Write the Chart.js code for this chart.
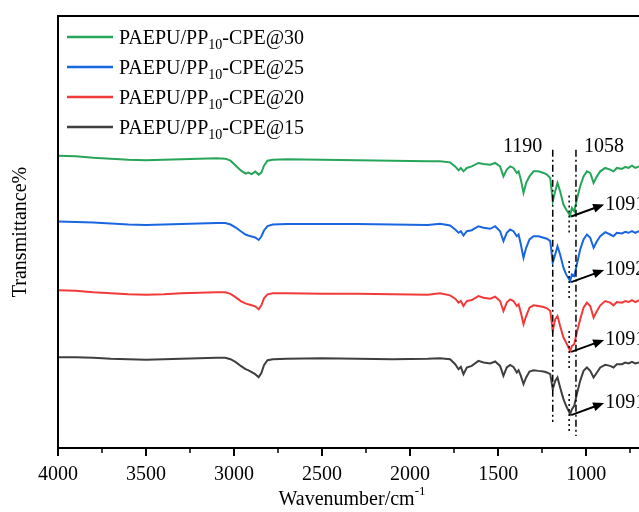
<!DOCTYPE html>
<html><head><meta charset="utf-8">
<script src="https://cdn.jsdelivr.net/npm/chart.js@4.4.0/dist/chart.umd.min.js"></script>
<style>html,body{margin:0;padding:0;background:#fff;}canvas{display:block;}</style>
</head><body>
<canvas id="c" width="639" height="512"></canvas>
<script>
// ---- data (wavenumber in cm-1, transmittance in arbitrary offset units) ----
const wavenumbers = [4000,3900,3800,3700,3600,3500,3400,3300,3200,3100,
  3050,3020,2990,2960,2935,2920,2900,2880,2860,2845,
  2830,2810,2780,2700,2500,2300,2100,1900,1830,1773,
  1744,1725,1712,1697,1678,1650,1612,1583,1545,1517,
  1489,1470,1451,1432,1413,1394,1384,1371,1356,1341,
  1322,1299,1271,1242,1223,1204,1190,1176,1163,1148,
  1129,1114,1091,1081,1068,1053,1034,1015,996,977,
  958,939,920,892,864,845,826,797,778,759,
  740,721,699];
const cpe30 = [293,292.5,291,290,289,288.5,289,289.5,290,290.5,
  290,288,283,278,275,276,274.5,277,274,276,
  283,288,289,289.5,289,288.5,288,287.5,287.3,286.3,
  282.3,278.3,280.7,277.3,280.7,282.3,285.7,284.7,284,285.7,
  282.3,272.3,279,282.3,280.7,275.7,277.3,269,255.7,265.7,
  272.3,277.3,277.3,275.7,274,270.7,247.3,257.3,265.7,257.3,
  244,239,233,240.7,237.3,249,262.3,272.3,277.3,275.7,
  265.7,272.3,277.3,280.7,279,277.3,280.7,279.7,281.7,280.7,
  283,280.7,282.3];
const cpe25 = [227,226.5,226,225,224,223.5,224,224.5,225,225.5,
  225.5,224,221,217,214,213,212,211,208.5,212,
  218,222.5,224,224.5,224.5,224.5,224,223.5,224.7,223,
  219,215.7,217.3,213,217.3,218.3,222.3,220.7,219.7,222.3,
  217.3,207.3,215.7,219,217.3,212.3,214,204,190.7,200.7,
  209,212.3,212.3,210.7,209.7,207.3,185.7,194,202.3,194,
  180.7,174,167.3,174,172.3,184,199,209,214,210.7,
  200.7,207.3,212.3,216.3,214,212.3,215.7,215,216.7,215.7,
  217.3,215.7,217.3];
const cpe20 = [158,157.5,156,155,154,153.5,154,155,155.5,156,
  156,154.5,151,147,145,144,143,142,139,143,
  150,154,155,155,154.5,154.5,154,153.5,155,153,
  149.7,145.7,147.3,142.3,147.3,148.3,152.3,150.7,149.7,151.7,
  147.3,137.3,145.7,149,147.3,142.3,144,135.7,124,132.3,
  140.7,143,142.3,141.3,140,137.3,117.3,129,132.3,122.3,
  110.7,105.7,97.3,102.3,104,115.7,129,140.7,145.7,142.3,
  130.7,137.3,143,147.3,145.7,143,146.3,145.7,147.3,146.3,
  148.3,146.3,148];
const cpe15 = [91,91,90.5,89.5,89,88.5,89,89.5,90,90.5,
  90.5,89,86,82,79,78,76,74,71,75,
  83,88,89,89.5,90,89.5,89,89.5,90,89,
  84,79,81.3,74,80.7,82.3,87.3,85.7,84.7,86.7,
  82.3,72.3,80.7,83.3,81.3,75.7,78,72.3,64,70.7,
  76.7,78,77.3,76.7,75.7,74,59,67.3,70.7,60.7,
  49,42.3,34,39,42.3,54,67.3,77.3,80.7,77.3,
  70.7,75.7,80.7,83.3,82.3,80.7,84,84,85.7,84.7,
  86.3,84.7,85.7];
const legendPrefix = 'PAEPU/PP';
const legendSub = '10';
const legendSuffixes = ['-CPE@30','-CPE@25','-CPE@20','-CPE@15'];
const seriesColors = ['#27a55a','#1a66e0','#f23a3a','#3f3f3f'];
const xTickValues = [4000,3500,3000,2500,2000,1500,1000];
const xMinorTickValues = [3750,3250,2750,2250,1750,1250,750];
const refLines = [1190, 1058];
const refLineBottoms = [26, 12];
const refLineTop = 299;
const peakWavenumber = 1091;
const peakLabels = ['1091','1092','1091','1091'];

const FONT = '"Liberation Serif","Times New Roman",serif';
const allSeries = [cpe30, cpe25, cpe20, cpe15];

const deco = {
  id: 'deco',
  afterDatasetsDraw(chart) {
    const {ctx, chartArea: a, scales: {x, y}} = chart;
    ctx.save();
    // frame
    ctx.strokeStyle = '#000';
    ctx.lineWidth = 2;
    ctx.beginPath();
    ctx.moveTo(a.right + 2, a.top); ctx.lineTo(a.left, a.top);
    ctx.lineTo(a.left, a.bottom); ctx.lineTo(a.right + 2, a.bottom);
    ctx.stroke();
    // ticks
    xTickValues.forEach(v => {
      const px = Math.round(x.getPixelForValue(v));
      ctx.lineWidth = 2;
      ctx.beginPath(); ctx.moveTo(px, a.bottom); ctx.lineTo(px, a.bottom + 8); ctx.stroke();
    });
    xMinorTickValues.forEach(v => {
      const px = Math.round(x.getPixelForValue(v));
      ctx.lineWidth = 1.5;
      ctx.beginPath(); ctx.moveTo(px, a.bottom); ctx.lineTo(px, a.bottom + 5); ctx.stroke();
    });
    // reference dash-dot lines
    ctx.lineWidth = 1.5;
    ctx.setLineDash([7, 3, 2, 3]);
    refLines.forEach((w, i) => {
      const px = x.getPixelForValue(w);
      ctx.beginPath();
      ctx.moveTo(px, y.getPixelForValue(refLineTop));
      ctx.lineTo(px, y.getPixelForValue(refLineBottoms[i]));
      ctx.stroke();
    });
    ctx.setLineDash([]);
    ctx.fillStyle = '#000';
    ctx.font = '20px ' + FONT;
    ctx.textAlign = 'center';
    ctx.textBaseline = 'alphabetic';
    const ly = y.getPixelForValue(refLineTop) + 2;
    ctx.fillText(String(refLines[0]), x.getPixelForValue(refLines[0]) - 30, ly);
    ctx.fillText(String(refLines[1]), x.getPixelForValue(refLines[1]) + 28, ly);
    // peak markers and arrows
    const pi = wavenumbers.indexOf(peakWavenumber);
    const ppx = x.getPixelForValue(peakWavenumber);
    allSeries.forEach((s, i) => {
      const py = y.getPixelForValue(s[pi]);
      ctx.lineWidth = 1.5;
      ctx.setLineDash([2, 3]);
      ctx.beginPath(); ctx.moveTo(ppx - 1, py - 20); ctx.lineTo(ppx - 1, py + 19); ctx.stroke();
      ctx.setLineDash([]);
      const x0 = ppx + 1, y0 = py + 1, x1 = ppx + 34, y1 = py - 11;
      const ang = Math.atan2(y1 - y0, x1 - x0);
      ctx.lineWidth = 2;
      ctx.beginPath(); ctx.moveTo(x0, y0);
      ctx.lineTo(x1 - 8 * Math.cos(ang), y1 - 8 * Math.sin(ang)); ctx.stroke();
      ctx.beginPath();
      ctx.moveTo(x1, y1);
      ctx.lineTo(x1 - 11 * Math.cos(ang) + 4.5 * Math.sin(ang), y1 - 11 * Math.sin(ang) - 4.5 * Math.cos(ang));
      ctx.lineTo(x1 - 11 * Math.cos(ang) - 4.5 * Math.sin(ang), y1 - 11 * Math.sin(ang) + 4.5 * Math.cos(ang));
      ctx.closePath(); ctx.fill();
      ctx.textAlign = 'left';
      ctx.font = '20px ' + FONT;
      ctx.fillText(peakLabels[i], ppx + 35, py - 6);
    });
    // legend
    const rows = [37, 67, 97, 127];
    rows.forEach((ry, i) => {
      ctx.strokeStyle = seriesColors[i];
      ctx.lineWidth = 2.5;
      ctx.beginPath(); ctx.moveTo(67, ry); ctx.lineTo(113, ry); ctx.stroke();
      ctx.fillStyle = '#000';
      ctx.textAlign = 'left';
      ctx.font = '20px ' + FONT;
      let tx = 119;
      ctx.fillText(legendPrefix, tx, ry + 7);
      tx += ctx.measureText(legendPrefix).width;
      ctx.font = '14px ' + FONT;
      ctx.fillText(legendSub, tx, ry + 12);
      tx += ctx.measureText(legendSub).width;
      ctx.font = '20px ' + FONT;
      ctx.fillText(legendSuffixes[i], tx, ry + 7);
    });
    // axis titles
    ctx.fillStyle = '#000';
    ctx.font = '20px ' + FONT;
    const t1 = 'Wavenumber/cm', t2 = '-1';
    const w1 = ctx.measureText(t1).width;
    ctx.font = '13px ' + FONT;
    const w2 = ctx.measureText(t2).width;
    let sx = 352 - (w1 + w2) / 2;
    ctx.font = '20px ' + FONT;
    ctx.textAlign = 'left';
    ctx.fillText(t1, sx, 505);
    ctx.font = '13px ' + FONT;
    ctx.fillText(t2, sx + w1, 495);
    ctx.save();
    ctx.translate(26, (a.top + a.bottom) / 2);
    ctx.rotate(-Math.PI / 2);
    ctx.font = '20px ' + FONT;
    ctx.textAlign = 'center';
    ctx.fillText('Transmittance%', 0, 0);
    ctx.restore();
    ctx.restore();
  }
};

const order = [3, 2, 1, 0];
new Chart(document.getElementById('c'), {
  type: 'line',
  data: {
    datasets: order.map(i => ({
      label: legendPrefix + legendSub + legendSuffixes[i],
      data: wavenumbers.map((w, k) => ({x: w, y: allSeries[i][k]})),
      borderColor: seriesColors[i],
      borderWidth: 2,
      pointRadius: 0,
      tension: 0,
      fill: false
    }))
  },
  options: {
    responsive: false,
    animation: false,
    devicePixelRatio: 1,
    layout: {padding: {left: 58, right: 0, top: 16, bottom: 10}},
    plugins: {legend: {display: false}, tooltip: {enabled: false}},
    scales: {
      x: {
        type: 'linear', reverse: true, min: 700, max: 4000,
        afterBuildTicks: s => { s.ticks = xTickValues.map(v => ({value: v})); },
        grid: {display: false, drawTicks: false},
        border: {display: false},
        ticks: {font: {family: FONT, size: 20}, color: '#000', padding: 15, maxRotation: 0, autoSkip: false,
          callback: v => String(v)}
      },
      y: {display: false, min: 0, max: 433}
    }
  },
  plugins: [deco]
});
</script>
</body></html>
